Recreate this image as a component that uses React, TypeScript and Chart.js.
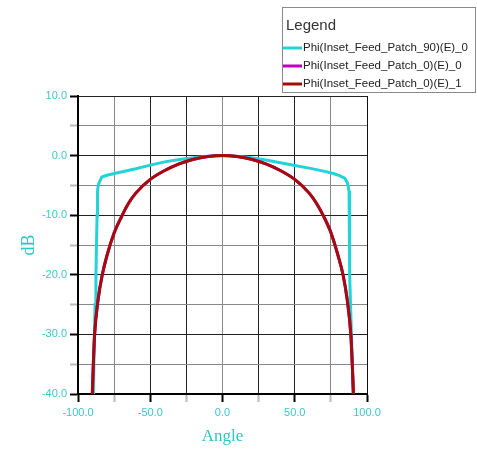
import React, { useEffect, useRef } from "react";
import { Chart, registerables } from "chart.js";

Chart.register(...registerables);

const seriesLabels = [
  "Phi(Inset_Feed_Patch_90)(E)_0",
  "Phi(Inset_Feed_Patch_0)(E)_0",
  "Phi(Inset_Feed_Patch_0)(E)_1",
];
const seriesColors = ["#22d3d8", "#c000c0", "#a40c0c"];

const cyanAngles = [-89.3, -88.8, -88.2, -87.6, -87.2, -86.8, -86.5, -86.0, -85.0, -83.5, -80, -74, -60, -50, -40, -30, -20, -10, 0, 10, 20, 30, 40, 50, 60, 70, 76.6, 81, 84.6, 86.5, 87.6, 87.8, 88.0, 88.2, 88.6, 89.2, 89.9, 90.5];
const cyanDb = [-40, -32, -25, -20, -15, -10, -6, -5, -4.3, -3.6, -3.3, -2.95, -2.2, -1.6, -1.05, -0.65, -0.35, -0.1, 0, -0.1, -0.35, -0.75, -1.2, -1.65, -2.1, -2.6, -3.0, -3.35, -3.8, -4.6, -6, -10, -15, -20, -25, -30, -35, -40];

const redAngles = [-90.1, -89.4, -88.5, -86.0, -83.2, -80, -75, -70, -65, -60, -50, -40, -30, -20, -10, 0, 10, 20, 30, 40, 50, 60, 65, 70, 75, 80, 83.4, 86.2, 88.8, 89.8, 90.6];
const redDb = [-40, -35, -30, -24, -20, -16.8, -13.0, -10.3, -8.0, -6.3, -4.0, -2.5, -1.4, -0.6, -0.15, 0, -0.15, -0.6, -1.4, -2.5, -4.0, -6.3, -8.0, -10.2, -12.9, -16.8, -20, -24, -30, -35, -40];

const xTicks = { min: -100, max: 100, step: 25, labelStep: 50 };
const yTicks = { min: -40, max: 10, step: 5, labelStep: 10 };

const toPoints = (xs: number[], ys: number[]) => xs.map((x, i) => ({ x, y: ys[i] }));

const legendBox = {
  id: "legendBox",
  afterDraw(chart: any) {
    const ctx = chart.ctx;
    ctx.save();
    ctx.fillStyle = "#ffffff";
    ctx.fillRect(282, 7, 193, 85);
    ctx.strokeStyle = "#8a8a8a";
    ctx.lineWidth = 1;
    ctx.strokeRect(282.5, 7.5, 193, 85);
    ctx.fillStyle = "#333";
    ctx.font = "15px 'Liberation Sans', Arial, sans-serif";
    ctx.textBaseline = "alphabetic";
    ctx.fillText("Legend", 286, 30);
    const ys = [48, 66, 84];
    chart.data.datasets.forEach((ds: any, i: number) => {
      const y = ys[i];
      ctx.strokeStyle = ds.borderColor;
      ctx.lineWidth = 3;
      ctx.beginPath();
      ctx.moveTo(283, y);
      ctx.lineTo(302, y);
      ctx.stroke();
      ctx.fillStyle = "#222";
      ctx.font = "11.5px 'Liberation Sans', Arial, sans-serif";
      ctx.textBaseline = "middle";
      ctx.fillText(ds.label, 303, y);
    });
    ctx.restore();
  },
};

export default function App() {
  const ref = useRef<HTMLCanvasElement | null>(null);
  useEffect(() => {
    if (!ref.current) return;
    const tickColor = "#3cc8c8";
    const chart = new Chart(ref.current, {
      type: "line",
      data: {
        datasets: [
          {
            label: seriesLabels[0],
            data: toPoints(cyanAngles, cyanDb),
            borderColor: seriesColors[0],
            borderWidth: 3,
            pointRadius: 0,
            tension: 0,
            order: 3,
          },
          {
            label: seriesLabels[1],
            data: toPoints(redAngles, redDb),
            borderColor: seriesColors[1],
            borderWidth: 3,
            pointRadius: 0,
            cubicInterpolationMode: "monotone",
            order: 2,
          },
          {
            label: seriesLabels[2],
            data: toPoints(redAngles, redDb),
            borderColor: seriesColors[2],
            borderWidth: 3,
            pointRadius: 0,
            cubicInterpolationMode: "monotone",
            order: 1,
          },
        ],
      },
      options: {
        responsive: false,
        animation: false,
        devicePixelRatio: 1,
        layout: { padding: { left: 0, top: 96, right: 110, bottom: 0 } },
        plugins: { legend: { display: false }, tooltip: { enabled: false } },
        scales: {
          x: {
            type: "linear",
            min: xTicks.min,
            max: xTicks.max,
            afterFit: (s: any) => {
              s.height = 55;
            },
            ticks: {
              stepSize: xTicks.step,
              autoSkip: false,
              maxRotation: 0,
              color: tickColor,
              padding: 4,
              font: { family: "'Liberation Sans', Arial, sans-serif", size: 11 },
              callback: (v: any) => (Number(v) % xTicks.labelStep === 0 ? Number(v).toFixed(1) : ""),
            },
            grid: {
              color: (c: any) => {
                const v = c.tick ? c.tick.value : 0;
                if (v === 100 || v === -100) return "#111";
                return v === 0 || Math.abs(v) === 75 ? "#888" : "#222";
              },
              lineWidth: 1,
              tickLength: 8,
              tickColor: (c: any) => {
                const v = c.tick ? c.tick.value : 0;
                return v % 50 === 0 ? "#000" : "#bbb";
              },
              tickWidth: 2,
            },
            border: { color: "#000", width: 2 },
            title: {
              display: true,
              text: "Angle",
              color: "#30c4c4",
              font: { family: "'Liberation Serif', 'DejaVu Serif', serif", size: 17, weight: "normal" },
              padding: { top: 0, bottom: 2 },
            },
          },
          y: {
            type: "linear",
            min: yTicks.min,
            max: yTicks.max,
            afterFit: (s: any) => {
              s.width = 78;
            },
            ticks: {
              stepSize: yTicks.step,
              autoSkip: false,
              color: tickColor,
              padding: 3,
              font: { family: "'Liberation Sans', Arial, sans-serif", size: 11 },
              callback: (v: any) => (Number(v) % yTicks.labelStep === 0 ? Number(v).toFixed(1) : ""),
            },
            grid: {
              color: (c: any) => {
                const v = c.tick ? c.tick.value : 0;
                return v % 10 === 0 ? "#222" : "#888";
              },
              lineWidth: 1,
              tickLength: 8,
              tickColor: (c: any) => {
                const v = c.tick ? c.tick.value : 0;
                return v % 10 === 0 ? "#000" : "#bbb";
              },
              tickWidth: 2,
            },
            border: { color: "#000", width: 2 },
            title: {
              display: true,
              text: "dB",
              color: "#30c4c4",
              font: { family: "'Liberation Serif', 'DejaVu Serif', serif", size: 18, weight: "normal" },
              padding: { top: 18, bottom: 0 },
            },
          },
        },
      },
      plugins: [legendBox],
    });
    return () => chart.destroy();
  }, []);
  return (
    <div style={{ position: "fixed", left: 0, top: 0, width: 477, height: 449, background: "#fff" }}>
      <canvas ref={ref} width={477} height={449} style={{ width: 477, height: 449, display: "block" }} />
    </div>
  );
}
